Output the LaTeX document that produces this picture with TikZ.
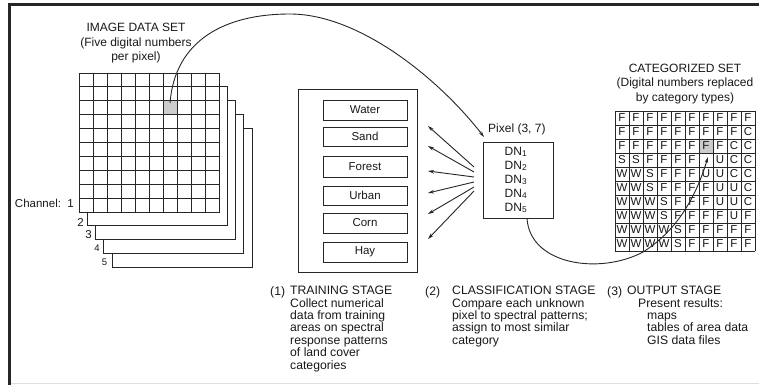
\documentclass[tikz,border=0pt]{standalone}
\usepackage{fontspec}
\setmainfont{Liberation Sans}
\usetikzlibrary{arrows.meta}
\begin{document}
\begin{tikzpicture}[x=1bp,y=-1bp,
  ln/.style={line width=0.9bp, black!85},
  lbl/.style={inner sep=0pt, font=\fontsize{12bp}{14.5bp}\selectfont, align=center, text=black!90},
  stxt/.style={inner sep=0pt, font=\fontsize{12.2bp}{12.4bp}\selectfont, align=left, anchor=north west, text=black!90},
  catbox/.style={draw, ln, minimum width=84bp, minimum height=20bp, inner sep=0pt, font=\fontsize{11.5bp}{13bp}\selectfont, text=black!90},
  gl/.style={inner sep=0pt, font=\fontsize{11.5bp}{12bp}\selectfont, text=black!90},
  arr/.style={ln, -{Stealth[length=6bp,width=3.5bp]}}
]
\useasboundingbox (0,0) rectangle (759,385);
\fill[white] (0,0) rectangle (759,385);
% frame
\draw[line width=3bp, black!85] (9.5,385) -- (9.5,4) -- (759,4);
\draw[line width=1bp, gray!25] (11,383.5) -- (759,383.5);

% ---- image data set ----
\node[lbl] (imgtitle) at (136,43.5) {IMAGE DATA SET\\(Five digital numbers\\per pixel)};
\foreach \k in {4,3,2,1,0} {
  \draw[ln, fill=white] ({79+8.25*\k},{73+13.75*\k}) rectangle +(140,139);
}
\fill[gray!40] (163,101) rectangle (177,115);
\foreach \i in {1,...,9} {
  \draw[ln] ({79+14*\i},73) -- +(0,139);
  \draw[ln] (79,{73+13.9*\i}) -- +(140,0);
}
\coordinate (px) at (170,103);
\node[lbl, anchor=east, font=\fontsize{11.5bp}{13bp}\selectfont] (ch1) at (74,203) {Channel:\ \ 1};
\node[lbl, font=\fontsize{11.5bp}{13bp}\selectfont] (ch2) at (80.5,222) {2};
\node[lbl, font=\fontsize{11.5bp}{13bp}\selectfont] (ch3) at (88.5,235) {3};
\node[lbl, font=\fontsize{9.5bp}{11bp}\selectfont] (ch4) at (97,248.5) {4};
\node[lbl, font=\fontsize{9.5bp}{11bp}\selectfont] (ch5) at (104.5,262) {5};

% ---- training stage ----
\node[draw, ln, minimum width=119bp, minimum height=183bp] (tbox) at (357.5,180.5) {};
\node[catbox] (water) at (365,110) {Water};
\node[catbox, minimum height=19bp] (sand) at (365,136.5) {Sand};
\node[catbox, minimum height=21bp] (forest) at (365,166.5) {Forest};
\node[catbox, minimum height=19bp] (urban) at (365,195.5) {Urban};
\node[catbox] (corn) at (365,223) {Corn};
\node[catbox] (hay) at (365,252) {Hay};

% ---- pixel box ----
\node[draw, ln, minimum width=70bp, minimum height=76bp] (pbox) at (518,180) {};
\node[inner sep=0pt, anchor=west, align=left, font=\fontsize{12bp}{14bp}\selectfont, text=black!90] (dn) at (504.5,180)
  {DN\textsubscript{1}\\DN\textsubscript{2}\\DN\textsubscript{3}\\DN\textsubscript{4}\\DN\textsubscript{5}};
\node[lbl, anchor=west] (plabel) at (488,129) {Pixel (3, 7)};
\coordinate (ptip) at (484,137);
\draw[arr] (px) .. controls (175,40) and (225,14) .. (290,14) .. controls (360,14) and (440,80) .. (ptip);

% arrows to training classes
\foreach \i/\ty/\hy in {1/167/126, 2/172/146, 3/177/171, 4/182/193, 5/187/214, 6/191/239} {
  \coordinate (t\i) at (474,\ty);
  \coordinate (h\i) at (428,\hy);
  \draw[arr] (t\i) -- (h\i);
}

% ---- categorized set ----
\node[lbl] (cattitle) at (685,84) {CATEGORIZED SET\\(Digital numbers replaced\\by category types)};
\fill[gray!40] (699,139) rectangle (713,153);
\foreach \i in {0,...,10} {
  \draw[ln] ({615+14*\i},111) -- +(0,140);
  \draw[ln] (615,{111+14*\i}) -- +(140,0);
}
\foreach \row [count=\r] in {
  {F,F,F,F,F,F,F,F,F,F},
  {F,F,F,F,F,F,F,F,F,C},
  {F,F,F,F,F,F,F,F,C,C},
  {S,S,F,F,F,F,{},U,C,C},
  {W,W,S,F,F,F,U,U,C,C},
  {W,W,S,F,F,F,F,U,U,C},
  {W,W,W,S,F,F,F,U,U,C},
  {W,W,W,S,F,F,F,F,U,F},
  {W,W,W,W,S,F,F,F,F,F},
  {W,W,W,W,S,F,F,F,F,F}} {
  \foreach \ch [count=\c] in \row {
    \node[gl] (g-\r-\c) at ({615+14*\c-7},{111+14*\r-7}) {\ch};
  }
}
\coordinate (ctip) at (708,157);
\draw[arr] ([xshift=9bp]pbox.south) .. controls (530,265) and (600,275) .. (643,252) .. controls (675,232) and (695,200) .. (ctip);

% ---- stage texts ----
\node[stxt] (s1n) at (270,286) {(1)};
\node[stxt] (s1) at (290,286) {TRAINING STAGE\\Collect numerical\\data from training\\areas on spectral\\response patterns\\of land cover\\categories};
\node[stxt] (s2n) at (425,286) {(2)};
\node[stxt] (s2) at (452,286) {CLASSIFICATION STAGE\\Compare each unknown\\pixel to spectral patterns;\\assign to most similar\\category};
\node[stxt] (s3n) at (607,286) {(3)};
\node[stxt] (s3) at (627,286) {OUTPUT STAGE\\\hspace*{11bp}Present results:\\\hspace*{20bp}maps\\\hspace*{20bp}tables of area data\\\hspace*{20bp}GIS data files};
\end{tikzpicture}
\end{document}
